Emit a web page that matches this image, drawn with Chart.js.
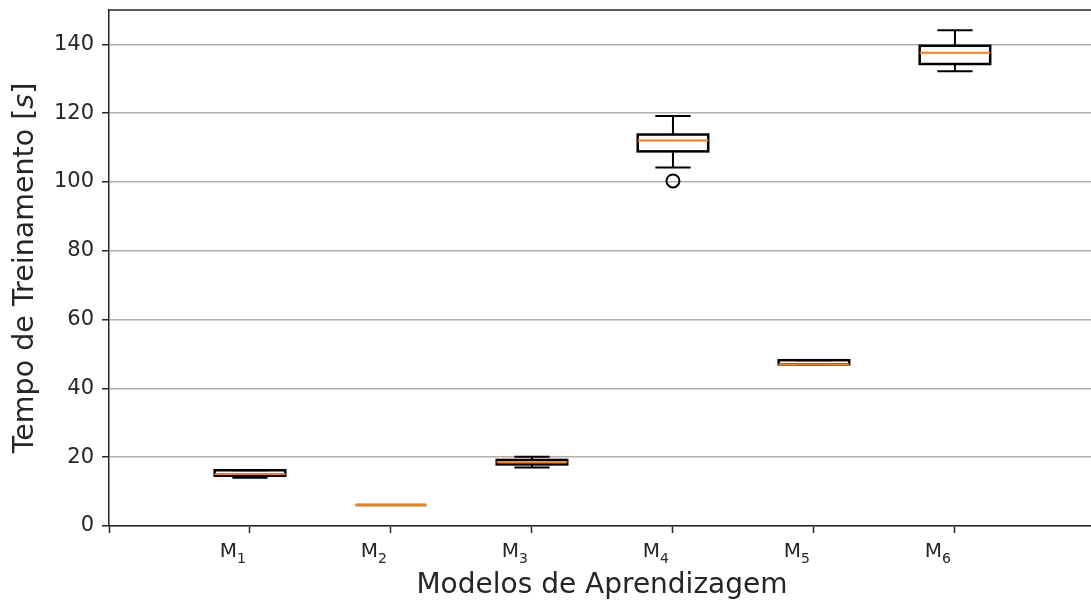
<!DOCTYPE html>
<html>
<head>
  <meta charset="utf-8" />
  <title>Tempo de Treinamento</title>
  <script src="https://cdn.jsdelivr.net/npm/chart.js"></script>
  <style>
    body { margin: 0; background: #fff; overflow: hidden; }
    .wrap { width: 1091px; height: 603px; }
  </style>
</head>
<body>
  <div class="wrap">
    <canvas id="boxChart"></canvas>
  </div>

  <script>
    // Dados (segundos)
    const categories = ['1', '2', '3', '4', '5', '6'];   // subscritos de "M"
    const positions = [1, 2, 3, 4, 5, 6];
    const mins = [14, 6.1, 17, 104.2, 47, 132.2];
    const q1s = [14.6, 6.1, 17.9, 108.9, 47, 134.3];
    const medians = [15.1, 6.1, 18.5, 112.1, 47, 137.6];
    const q3s = [16.2, 6.1, 19.2, 113.8, 48.2, 139.6];
    const maxs = [16.2, 6.1, 20.1, 119.2, 48.2, 144.1];
    const outliers = [[], [], [], [100.3], [], []];
    const yTickStep = 20;

    const FONT = 'DejaVu Sans';
    const TEXT = '#262626';
    const boxWidth = 0.5;

    const outlierPoints = [];
    outliers.forEach((list, i) => list.forEach(v => outlierPoints.push({ x: positions[i], y: v })));

    // Caixas, bigodes e medianas desenhados com as escalas do Chart.js
    const boxPlugin = {
      id: 'boxes',
      beforeDatasetsDraw(chart) {
        const { ctx, scales: { x, y }, chartArea } = chart;
        ctx.save();
        ctx.lineCap = 'butt';
        positions.forEach((p, i) => {
          const xl = x.getPixelForValue(p - boxWidth / 2);
          const xr = x.getPixelForValue(p + boxWidth / 2);
          const xc = x.getPixelForValue(p);
          const capL = x.getPixelForValue(p - boxWidth / 4);
          const capR = x.getPixelForValue(p + boxWidth / 4);
          const yMin = y.getPixelForValue(mins[i]);
          const yQ1 = y.getPixelForValue(q1s[i]);
          const yMed = y.getPixelForValue(medians[i]);
          const yQ3 = y.getPixelForValue(q3s[i]);
          const yMax = y.getPixelForValue(maxs[i]);

          ctx.strokeStyle = '#000';
          ctx.lineWidth = 2;
          // bigodes
          ctx.beginPath();
          ctx.moveTo(xc, yQ1); ctx.lineTo(xc, yMin);
          ctx.moveTo(xc, yQ3); ctx.lineTo(xc, yMax);
          ctx.moveTo(capL, yMin); ctx.lineTo(capR, yMin);
          ctx.moveTo(capL, yMax); ctx.lineTo(capR, yMax);
          ctx.stroke();
          // caixa
          ctx.lineWidth = 2.5;
          ctx.strokeRect(xl, yQ3, xr - xl, yQ1 - yQ3);
          // mediana
          ctx.lineWidth = 2;
          ctx.strokeStyle = '#ff7f0e';
          ctx.beginPath();
          ctx.moveTo(xl, yMed); ctx.lineTo(xr, yMed);
          ctx.stroke();
        });
        // borda superior
        ctx.strokeStyle = TEXT;
        ctx.lineWidth = 1.5;
        ctx.beginPath();
        ctx.moveTo(chartArea.left, chartArea.top);
        ctx.lineTo(chartArea.right, chartArea.top);
        ctx.stroke();
        ctx.restore();
      },
      afterDraw(chart) {
        const { ctx, chartArea, scales: { x } } = chart;
        ctx.save();
        ctx.fillStyle = TEXT;

        // rótulos M com subscrito
        ctx.textBaseline = 'alphabetic';
        positions.forEach((p, i) => {
          const right = x.getPixelForValue(p) - 4;
          ctx.font = '14px "' + FONT + '"';
          const sw = ctx.measureText(categories[i]).width;
          ctx.font = '20px "' + FONT + '"';
          const mw = ctx.measureText('M').width;
          ctx.textAlign = 'left';
          ctx.fillText('M', right - sw - mw, 557);
          ctx.font = '14px "' + FONT + '"';
          ctx.fillText(categories[i], right - sw, 562.5);
        });

        // título do eixo x
        ctx.font = '28px "' + FONT + '"';
        ctx.textAlign = 'center';
        ctx.fillText('Modelos de Aprendizagem', 602, 593);

        // título do eixo y com "s" em itálico
        const parts = [
          { t: 'Tempo de Treinamento [', f: '28.5px "' + FONT + '"' },
          { t: 's', f: 'italic 28.5px "' + FONT + '"' },
          { t: ']', f: '28.5px "' + FONT + '"' }
        ];
        let total = 0;
        parts.forEach(pt => { ctx.font = pt.f; pt.w = ctx.measureText(pt.t).width; total += pt.w; });
        ctx.translate(33, (chartArea.top + chartArea.bottom) / 2);
        ctx.rotate(-Math.PI / 2);
        ctx.textAlign = 'left';
        let cx = -total / 2;
        parts.forEach(pt => { ctx.font = pt.f; ctx.fillText(pt.t, cx, 0); cx += pt.w; });
        ctx.restore();
      }
    };

    const ctx = document.getElementById('boxChart').getContext('2d');
    const chart = new Chart(ctx, {
      type: 'scatter',
      data: {
        datasets: [{
          label: 'outliers',
          data: outlierPoints,
          pointRadius: 6.5,
          pointHoverRadius: 6.5,
          pointBorderWidth: 2,
          pointBorderColor: '#000',
          pointBackgroundColor: 'rgba(0,0,0,0)'
        }]
      },
      plugins: [boxPlugin],
      options: {
        responsive: true,
        maintainAspectRatio: false,
        animation: false,
        layout: { autoPadding: false, padding: { top: 10, left: 0, right: 0, bottom: 0 } },
        plugins: { legend: { display: false }, tooltip: { enabled: false } },
        scales: {
          x: {
            type: 'linear',
            min: 0,
            max: 6.965,
            afterFit: s => { s.height = 77; s.paddingLeft = 0; s.paddingRight = 0; },
            ticks: {
              stepSize: 1,
              includeBounds: false,
              autoSkip: false,
              maxRotation: 0,
              callback: () => ''
            },
            grid: { drawOnChartArea: false, tickLength: 7, tickColor: TEXT, tickWidth: 1.5 },
            border: { color: TEXT, width: 1.5 }
          },
          y: {
            min: 0,
            max: 150,
            afterFit: s => { s.width = 109; s.paddingTop = 0; s.paddingBottom = 0; },
            ticks: {
              stepSize: yTickStep,
              includeBounds: false,
              padding: 8,
              color: TEXT,
              font: { family: FONT, size: 21 }
            },
            grid: { color: '#b0b0b0', lineWidth: 1.5, tickLength: 7, tickColor: TEXT, tickWidth: 1.5 },
            border: { color: TEXT, width: 1.5 }
          }
        }
      }
    });
  </script>
</body>
</html>
